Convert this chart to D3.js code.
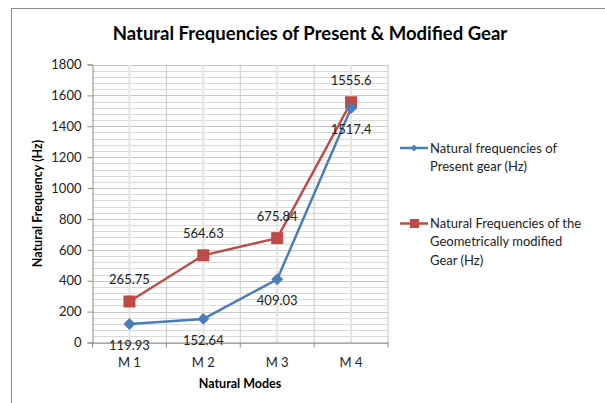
<!DOCTYPE html>
<html><head><meta charset="utf-8">
<script src="https://cdn.jsdelivr.net/npm/d3@7"></script>
<style>
html,body{margin:0;padding:0;background:#fff;}
svg{display:block;font-family:Lato,"Open Sans",sans-serif;}
</style></head>
<body><svg id="c" width="605" height="403"></svg>
<script>
const categories = ["M 1","M 2","M 3","M 4"];
const presentValues = [119.93,152.64,409.03,1517.4];
const modifiedValues = [265.75,564.63,675.84,1555.6];
const yTicks = [0,200,400,600,800,1000,1200,1400,1600,1800];
const seriesNames = [["Natural frequencies of","Present gear (Hz)"],["Natural Frequencies of the","Geometrically modified","Gear (Hz)"]];

const svg = d3.select("#c");
const blue = "#4a7ebb", red = "#be4b48";
const L = 92.5, R = 388, T = 64.5, B = 342.5;

// chart frame
svg.append("rect").attr("x",11.5).attr("y",8.5).attr("width",620).attr("height",420)
  .attr("fill","#fff").attr("stroke","#8c8c8c").attr("stroke-width",1);

const x = d3.scaleBand().domain(categories).range([L,R]).padding(0);
const y = d3.scaleLinear().domain([0,1800]).range([B,T]);

const g = svg.append("g");
g.selectAll("line.hm").data(d3.range(0,1801,40)).enter().append("line")
  .attr("x1",L).attr("x2",R).attr("y1",d=>Math.round(y(d))+0.5).attr("y2",d=>Math.round(y(d))+0.5)
  .attr("stroke","#d9d9d9").attr("stroke-width",1);
g.selectAll("line.hM").data(yTicks).enter().append("line")
  .attr("x1",L).attr("x2",R).attr("y1",d=>Math.round(y(d))+0.5).attr("y2",d=>Math.round(y(d))+0.5)
  .attr("stroke","#c8c8c8").attr("stroke-width",1);
g.selectAll("line.vc").data(categories).enter().append("line")
  .attr("x1",d=>x(d)+x.bandwidth()/2).attr("x2",d=>x(d)+x.bandwidth()/2)
  .attr("y1",T).attr("y2",B).attr("stroke","#e4e4e4").attr("stroke-width",2);
g.selectAll("line.vb").data(categories.slice(1).concat(["end"])).enter().append("line")
  .attr("x1",d=>d==="end"?R:x(d)).attr("x2",d=>d==="end"?R:x(d))
  .attr("y1",T).attr("y2",B).attr("stroke","#c8c8c8").attr("stroke-width",1);

const yAxis = d3.axisLeft(y).tickValues(yTicks).tickFormat(d3.format("d")).tickSize(5).tickPadding(6);
const ya = svg.append("g").attr("transform",`translate(${L},0)`).call(yAxis);
ya.select(".domain").attr("stroke","#8c8c8c");
ya.selectAll(".tick line").attr("stroke","#8c8c8c");
ya.selectAll(".tick text").attr("font-size",13).attr("fill","#222").attr("font-family","Lato,sans-serif");

const xa = svg.append("g").attr("transform",`translate(0,${B})`)
  .call(d3.axisBottom(x).tickSize(0).tickPadding(15));
xa.select(".domain").attr("stroke","#8c8c8c");
xa.selectAll(".tick text").attr("font-size",13).attr("fill","#222").attr("font-family","Lato,sans-serif");
svg.append("g").selectAll("line").data(categories.concat(["end"])).enter().append("line")
  .attr("x1",d=>d==="end"?R:x(d)).attr("x2",d=>d==="end"?R:x(d))
  .attr("y1",B).attr("y2",B+5).attr("stroke","#8c8c8c");

const cx = d => x(d)+x.bandwidth()/2;
const line = d3.line().x((d,i)=>cx(categories[i])).y(d=>y(d));

svg.append("path").datum(modifiedValues).attr("d",line).attr("fill","none")
  .attr("stroke",red).attr("stroke-width",2.5);
svg.append("g").selectAll("rect").data(modifiedValues).enter().append("rect")
  .attr("x",(d,i)=>cx(categories[i])-6).attr("y",d=>y(d)-6).attr("width",12).attr("height",12)
  .attr("fill",red);
svg.append("path").datum(presentValues).attr("d",line).attr("fill","none")
  .attr("stroke",blue).attr("stroke-width",2.5);
svg.append("g").selectAll("path").data(presentValues).enter().append("path")
  .attr("transform",(d,i)=>`translate(${cx(categories[i])},${y(d)})`)
  .attr("d",d3.symbol().type(d3.symbolDiamond2).size(90)).attr("fill",blue);

svg.append("g").selectAll("text").data(modifiedValues).enter().append("text")
  .attr("x",(d,i)=>cx(categories[i])).attr("y",d=>y(d)-17)
  .attr("text-anchor","middle").attr("font-size",13).attr("fill","#222").text(d=>d);
svg.append("g").selectAll("text").data(presentValues).enter().append("text")
  .attr("x",(d,i)=>cx(categories[i])).attr("y",d=>y(d)+26)
  .attr("text-anchor","middle").attr("font-size",13).attr("fill","#222").text(d=>d);

svg.append("text").attr("x",310).attr("y",40).attr("text-anchor","middle")
  .attr("font-size",18.5).attr("font-weight","bold").attr("fill","#000")
  .text("Natural Frequencies of Present & Modified Gear");
svg.append("text").attr("transform",`translate(42,${(T+B)/2}) rotate(-90)`).attr("text-anchor","middle")
  .attr("font-size",12.5).attr("font-weight","bold").attr("fill","#000").text("Natural Frequency (Hz)");
svg.append("text").attr("x",240).attr("y",388).attr("text-anchor","middle")
  .attr("font-size",12.5).attr("font-weight","bold").attr("fill","#000").text("Natural Modes");

const leg = [{c:blue,y:148,m:"d",lines:seriesNames[0]},{c:red,y:223.5,m:"s",lines:seriesNames[1]}];
leg.forEach(l=>{
  svg.append("line").attr("x1",400).attr("x2",428).attr("y1",l.y).attr("y2",l.y).attr("stroke",l.c).attr("stroke-width",2.5);
  if(l.m==="d") svg.append("path").attr("transform",`translate(414,${l.y})`).attr("d",d3.symbol().type(d3.symbolDiamond2).size(30)).attr("fill",l.c);
  else svg.append("rect").attr("x",410).attr("y",l.y-4.5).attr("width",9).attr("height",9).attr("fill",l.c);
  l.lines.forEach((t,i)=>svg.append("text").attr("x",430).attr("y",l.y+4.5+i*18.3)
    .attr("font-size",13).attr("fill","#222").text(t));
});
</script></body></html>
